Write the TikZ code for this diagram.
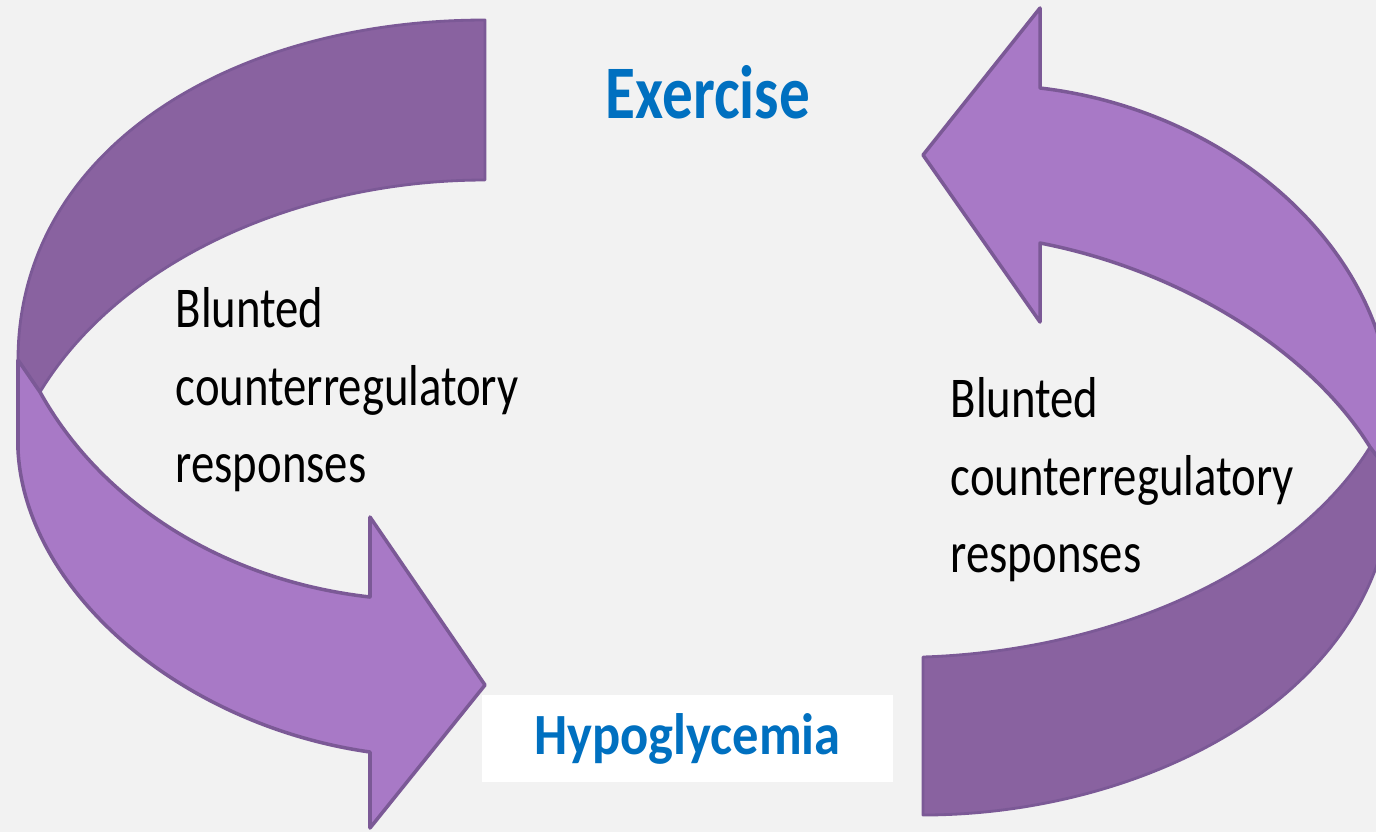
\documentclass[tikz,border=0pt]{standalone}
\usepackage{fontspec}
\setmainfont{Carlito}
\newfontfamily\bodyfont[FakeStretch=0.81]{Carlito}
\newfontfamily\namefont[FakeStretch=0.9]{Carlito}
\usepackage{tikz}
\usetikzlibrary{positioning}

\definecolor{bgGray}{HTML}{F2F2F2}
\definecolor{ribbonDark}{HTML}{8962A0}
\definecolor{ribbonLight}{HTML}{A879C6}
\definecolor{ribbonEdge}{HTML}{7B5996}
\definecolor{titleBlue}{HTML}{0070C0}

\begin{document}
\begin{tikzpicture}[x=0.01cm,y=-0.01cm,line join=round,
  dark/.style={fill=ribbonDark,draw=ribbonEdge,line width=0.8pt},
  light/.style={fill=ribbonLight,draw=ribbonEdge,line width=1pt},
  title/.style={text=titleBlue,inner sep=0pt,font=\bodyfont\bfseries\fontsize{21.5}{26}\selectfont},
  namebox/.style={fill=white,text=titleBlue,inner sep=0pt,minimum width=4.11cm,minimum height=0.87cm,font=\namefont\bfseries\fontsize{16.6}{20}\selectfont},
  note/.style={align=left,anchor=base west,inner sep=0pt,font=\bodyfont\fontsize{16.4}{21.9}\selectfont}]

    % The canvas
	\useasboundingbox (0,0) rectangle (1376,832);
	\fill[bgGray] (0,0) rectangle (1376,832);
	\clip (0,0) rectangle (1376,832);

    % Left ribbon
	\draw[dark] (485,20) .. controls (230,20) and (18,150) .. (18,360)
	  -- (40,392) .. controls (120,260) and (300,180) .. (485,180) -- cycle;
	\draw[light] (18,360) -- (40,392) .. controls (100,500) and (220,580) .. (370,597)
	  -- (370,517) -- (485,685) -- (370,828) -- (370,752)
	  .. controls (180,725) and (25,590) .. (18,450) -- cycle;

    % Right ribbon
	\draw[dark] (1370,447) .. controls (1300,560) and (1130,650) .. (923,657)
	  -- (923,815) .. controls (1150,815) and (1392,690) .. (1392,476) -- cycle;
	\draw[light] (1392,476) -- (1370,447) .. controls (1310,350) and (1180,270) .. (1040,243)
	  -- (1040,322) -- (923,155) -- (1040,8) -- (1040,88)
	  .. controls (1230,110) and (1392,250) .. (1392,420) -- cycle;

    % The labels
	\node [title,anchor=base] at (708,118) (exercise) {Exercise};
	\node [namebox] at (687.5,738.5) (hypo) {Hypoglycemia};
	\node [note] at (175,482) (leftnote) {Blunted\\counterregulatory\\responses};
	\node [note] at (950,572) (rightnote) {Blunted\\counterregulatory\\responses};

\end{tikzpicture}
\end{document}
